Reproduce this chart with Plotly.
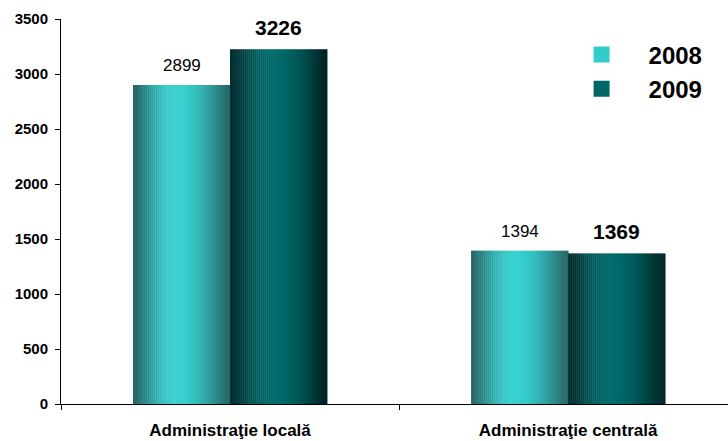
import plotly.graph_objects as go
import math

categories = ["Administraţie locală", "Administraţie centrală"]
years = ["2008", "2009"]
values_2008 = [2899, 1394]
values_2009 = [3226, 1369]
y_ticks = [0, 500, 1000, 1500, 2000, 2500, 3000, 3500]

FONT = "Arial, Liberation Sans, sans-serif"
BAR_W = 0.287
N = 48

def mix(c1, c2, f):
    return "rgb(%d,%d,%d)" % tuple(round(a + (b - a) * f) for a, b in zip(c1, c2))

styles = {
    "2008": dict(edge_l=(36, 100, 100), edge_r=(38, 100, 100), peak=(56, 208, 208), solid="#33cccc",
                 offset=-BAR_W, font=dict(size=17, color="black", family=FONT)),
    "2009": dict(edge_l=(0, 44, 44), edge_r=(0, 32, 32), peak=(0, 106, 106), solid="#006666",
                 offset=0.0, font=dict(size=21, color="black", family=FONT, weight="bold")),
}
series = {"2008": values_2008, "2009": values_2009}

fig = go.Figure()
for yr in years:
    st = styles[yr]
    vals = series[yr]
    for i in range(N):
        t = (i + 0.5) / N
        peak_t = 0.45
        if t <= peak_t:
            f = math.sin(math.pi / 2 * (t / peak_t)) ** 1.3
            col = mix(st["edge_l"], st["peak"], f)
        else:
            f = math.cos(math.pi / 2 * ((t - peak_t) / (1 - peak_t))) ** 1.1
            col = mix(st["edge_r"], st["peak"], f)
        fig.add_trace(go.Bar(
            x=[0, 1], y=vals, offset=st["offset"] + i * BAR_W / N, width=BAR_W / N * 1.2,
            marker=dict(color=col, line=dict(width=0)), showlegend=False, hoverinfo="skip"))
    # value labels
    for ci, v in enumerate(vals):
        fig.add_annotation(x=ci + st["offset"] + BAR_W / 2, y=v, text=str(v), showarrow=False,
                           yanchor="bottom", yshift=8, font=st["font"])
    # legend entry
    fig.add_trace(go.Scatter(x=[None], y=[None], name=yr, mode="markers",
                             marker=dict(symbol="square", size=16, color=st["solid"]),
                             showlegend=True))

fig.update_layout(
    width=728, height=441,
    barmode="overlay",
    plot_bgcolor="white", paper_bgcolor="white",
    margin=dict(l=61, r=0, t=19, b=37, autoexpand=False),
    font=dict(family=FONT, color="black"),
    showlegend=True,
    legend=dict(x=0.74, y=0.965, xanchor="left", yanchor="top",
                font=dict(size=24, family=FONT, weight="bold"),
                itemwidth=84, tracegroupgap=0, bgcolor="rgba(0,0,0,0)"),
    xaxis=dict(
        range=[-0.5, 1.473], tickmode="array", tickvals=[0, 1], ticktext=categories,
        showline=True, linecolor="black", linewidth=1, ticks="",
        minor=dict(tickmode="array", tickvals=[-0.5, 0.5, 1.5], ticks="outside", ticklen=5,
                   tickcolor="black", showgrid=False),
        showgrid=False, zeroline=False, automargin=False,
        tickfont=dict(size=17, family=FONT, weight="bold"), ticklabelstandoff=11),
    yaxis=dict(
        range=[0, 3500], tickvals=y_ticks, showline=True, linecolor="black", linewidth=1,
        ticks="outside", ticklen=5, tickcolor="black", showgrid=False, zeroline=False,
        automargin=False,
        tickfont=dict(size=15, family=FONT, weight="bold"), ticklabelstandoff=4),
)

fig.write_html("out.html", config={"displayModeBar": False},
               post_script="document.body.style.margin='0';")
